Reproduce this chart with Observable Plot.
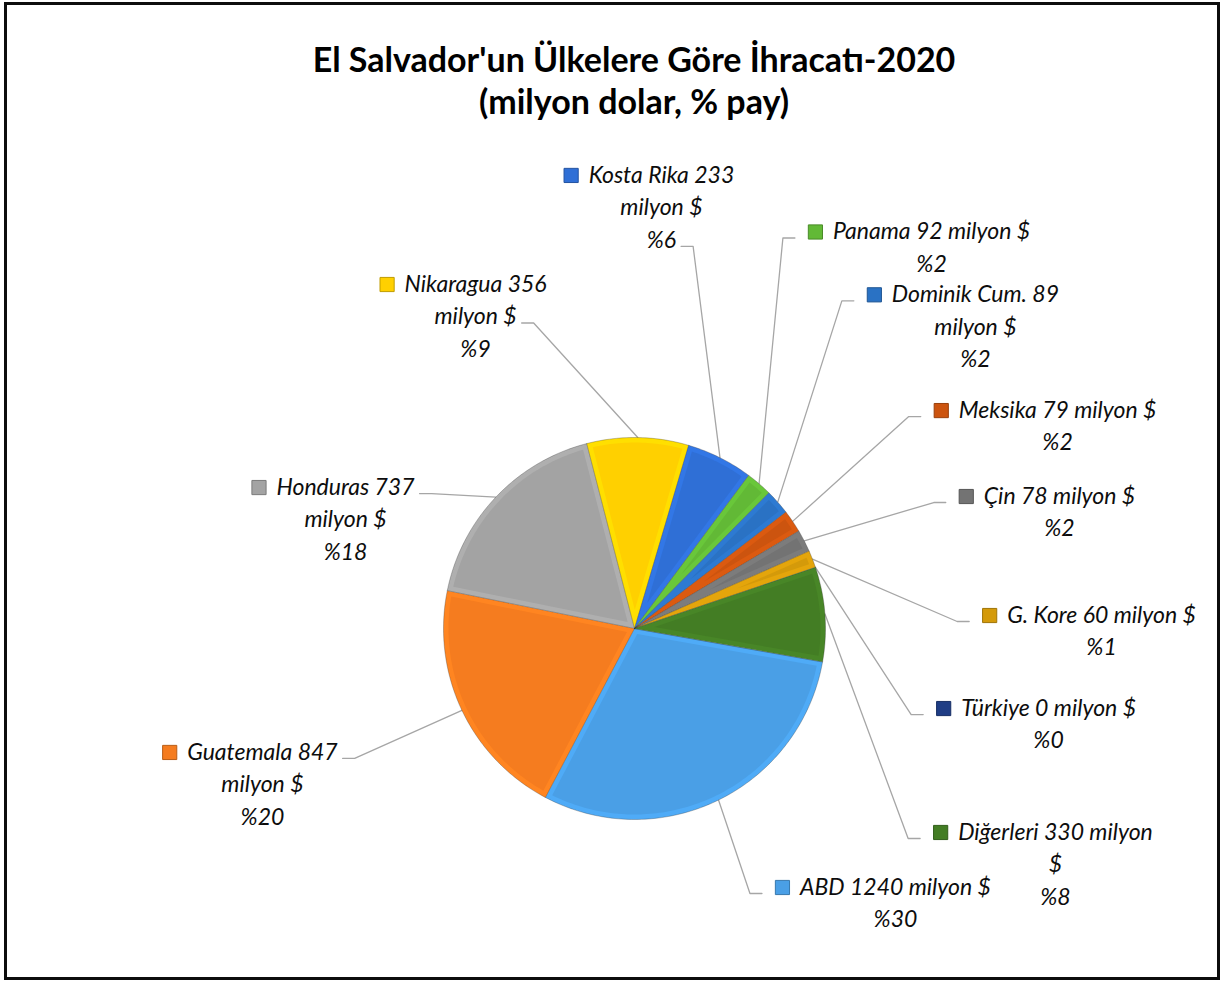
<!DOCTYPE html>
<html><head><meta charset="utf-8">
<script src="https://cdn.jsdelivr.net/npm/d3@7"></script>
<script src="https://cdn.jsdelivr.net/npm/@observablehq/plot@0.6"></script>
<style>
body{margin:0;background:#fff;}
#page{position:relative;width:1224px;height:983px;overflow:hidden;background:#fff;}
#border{position:absolute;left:4px;top:2px;width:1216px;height:978px;border:3px solid #0d0d0d;box-sizing:border-box;pointer-events:none;}
#title{position:absolute;left:0;width:1268px;top:38px;text-align:center;font-family:Lato,sans-serif;font-weight:bold;font-size:34px;line-height:42px;color:#000;}
#chart{position:absolute;left:0;top:130px;}
</style></head>
<body>
<div id="page">
  <div id="title">El Salvador'un Ülkelere Göre İhracatı-2020<br>(milyon dolar, % pay)</div>
  <div id="chart"></div>
  <div id="border"></div>
</div>
<script>
// ---- data ----
const countries = ["ABD", "Guatemala", "Honduras", "Nikaragua", "Kosta Rika", "Panama", "Dominik Cum.", "Meksika", "Çin", "G. Kore", "Türkiye", "Diğerleri"];
const exportsMillion = [1240, 847, 737, 356, 233, 92, 89, 79, 78, 60, 0, 330];
const sliceColors = ["#4a9fe6", "#f57c1f", "#a3a3a3", "#ffd000", "#2f6fd6", "#62b936", "#2a72c4", "#cc540f", "#737373", "#d49a0a", "#1f3d85", "#437d24"];
const unitText = "milyon $";

// ---- layout (label placement in pie radii, wrapping, leader attachment) ----
const startDeg = 100;
const labelLayout = [
  {ux: 1.366, uy: 1.356, wrap: "none", side: "right", line: 0},
  {ux: -1.948, uy: 0.649, wrap: "value", side: "left", line: 0},
  {ux: -1.513, uy: -0.738, wrap: "value", side: "left", line: 0},
  {ux: -0.832, uy: -1.801, wrap: "value", side: "left", line: 1},
  {ux: 0.141, uy: -2.372, wrap: "value", side: "left", line: 2},
  {ux: 1.555, uy: -2.076, wrap: "none", side: "right", line: 0},
  {ux: 1.785, uy: -1.747, wrap: "value", side: "right", line: 0},
  {ux: 2.215, uy: -1.141, wrap: "none", side: "right", line: 0},
  {ux: 2.225, uy: -0.691, wrap: "none", side: "right", line: 0},
  {ux: 2.445, uy: -0.068, wrap: "none", side: "right", line: 0},
  {ux: 2.168, uy: 0.419, wrap: "none", side: "right", line: 0},
  {ux: 2.204, uy: 1.068, wrap: "unit", side: "right", line: 0}
];

const PX = 191;             // pixels per pie radius
const cxPx = 634, cyPx = 498; // pie centre inside the svg
const lineStep = 32.5 / PX;
const fontSize = 23;
const font = "italic " + fontSize + "px Lato";

const total = d3.sum(exportsMillion);
const rad = (d) => d * Math.PI / 180;
const arcs = d3.pie().sort(null).value(d => d).startAngle(rad(startDeg)).endAngle(rad(startDeg + 360))(exportsMillion);

const ctx = document.createElement("canvas").getContext("2d");
function textWidth(s) { ctx.font = font; return ctx.measureText(s).width; }

function draw() {
  const outer = [], inner = [], labels = [], keys = [], leaders = [];
  const rimW = 5 / PX;
  arcs.forEach((a, i) => {
    const base = sliceColors[i];
    const rim = d3.color(base).brighter(0.2).formatHex();
    if (a.value > 0) {
      const n = Math.max(2, Math.ceil((a.endAngle - a.startAngle) / rad(1)));
      outer.push({id: i, x: 0, y: 0, c: rim});
      for (let k = 0; k <= n; k++) {
        const t = a.startAngle + (a.endAngle - a.startAngle) * k / n;
        outer.push({id: i, x: Math.sin(t), y: -Math.cos(t), c: rim});
      }
      const half = (a.endAngle - a.startAngle) / 2, mid = a.startAngle + half;
      const s = rimW / Math.sin(half), rho = 1 - rimW;
      const del = Math.asin(rimW / rho);
      if (half < Math.PI / 2 && s < rho * 0.8 && a.endAngle - a.startAngle > 2 * del) {
        inner.push({id: i, x: s * Math.sin(mid), y: -s * Math.cos(mid), c: base});
        const a0 = a.startAngle + del, a1 = a.endAngle - del;
        for (let k = 0; k <= n; k++) {
          const t = a0 + (a1 - a0) * k / n;
          inner.push({id: i, x: rho * Math.sin(t), y: -rho * Math.cos(t), c: base});
        }
      }
    }
    // label text
    const L = labelLayout[i];
    const pct = "%" + Math.round(exportsMillion[i] / total * 100);
    const nm = countries[i] + " " + exportsMillion[i];
    let lines;
    if (L.wrap === "value") lines = [nm, unitText, pct];
    else if (L.wrap === "unit") lines = [nm + " milyon", "$", pct];
    else lines = [nm + " " + unitText, pct];
    lines.forEach((t, k) => labels.push({x: L.ux, y: L.uy + k * lineStep, text: t}));
    const w0 = textWidth(lines[0]);
    const keyX = L.ux - (w0 / 2 + 10 + 7.5) / PX;
    keys.push({x: keyX, y: L.uy, fill: base, stroke: d3.color(base).darker(0.8).formatHex()});
    // leader
    const mid = (a.startAngle + a.endAngle) / 2;
    const ay = L.uy + L.line * lineStep + 6 / PX;
    let ax, ex;
    if (L.side === "right") { ax = keyX - (7.5 + 13) / PX; ex = ax - 12 / PX; }
    else { ax = L.ux + (textWidth(lines[L.line]) / 2 + 5) / PX; ex = ax + 12 / PX; }
    leaders.push({id: i, x: Math.sin(mid), y: -Math.cos(mid)});
    leaders.push({id: i, x: ex, y: ay});
    leaders.push({id: i, x: ax, y: ay});
  });

  const chart = Plot.plot({
    width: 1224,
    height: 853,
    margin: 0,
    x: {domain: [-1, 1], range: [cxPx - PX, cxPx + PX], axis: null},
    y: {domain: [-1, 1], range: [cyPx - PX, cyPx + PX], axis: null},
    color: {type: "identity"},
    marks: [
      Plot.line(leaders, {x: "x", y: "y", z: "id", stroke: "#a6a6a6", strokeWidth: 1.3}),
      Plot.line(outer, {x: "x", y: "y", z: "id", fill: "c", stroke: "rgba(50,50,50,0.3)", strokeWidth: 1, curve: "linear-closed"}),
      Plot.line(inner, {x: "x", y: "y", z: "id", fill: "c", stroke: "none", curve: "linear-closed"}),
      Plot.dot(keys, {x: "x", y: "y", symbol: "square", r: 8, fill: "fill", stroke: "stroke", strokeWidth: 1}),
      Plot.text(labels, {x: "x", y: "y", text: "text", fontSize: fontSize, fontStyle: "italic", fontFamily: "Lato", fill: "#0d0d0d"})
    ]
  });
  document.getElementById("chart").appendChild(chart);
}
(document.fonts && document.fonts.load ? document.fonts.load(font).catch(() => {}) : Promise.resolve()).then(draw);
</script>
</body></html>
